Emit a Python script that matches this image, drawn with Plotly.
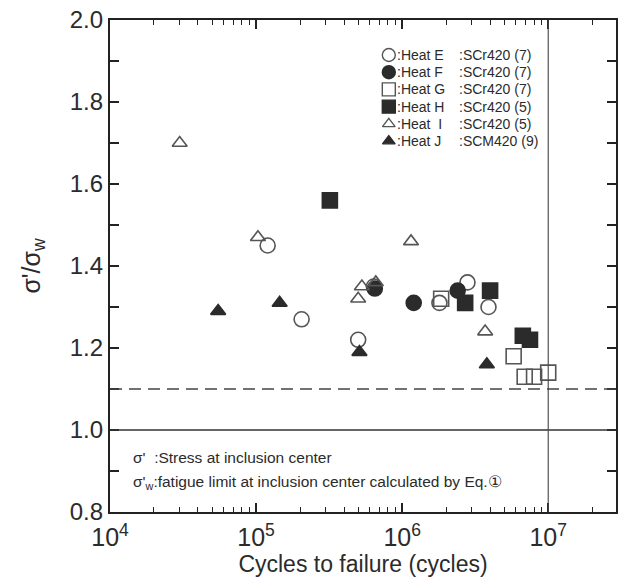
import plotly.graph_objects as go

# ---- data ----
heatE_N = [1.2e5, 2.05e5, 5.0e5, 6.4e5, 1.8e6, 2.8e6, 3.9e6]
heatE_r = [1.45, 1.27, 1.22, 1.35, 1.31, 1.36, 1.30]
heatF_N = [6.5e5, 1.2e6, 2.4e6]
heatF_r = [1.345, 1.31, 1.34]
heatG_N = [1.85e6, 5.8e6, 6.9e6, 8.0e6, 1.0e7]
heatG_r = [1.32, 1.18, 1.13, 1.13, 1.14]
heatH_N = [3.2e5, 2.7e6, 4.0e6, 6.7e6, 7.5e6]
heatH_r = [1.56, 1.31, 1.34, 1.23, 1.22]
heatI_N = [3.0e4, 1.03e5, 5.0e5, 5.3e5, 6.6e5, 1.15e6, 3.7e6]
heatI_r = [1.70, 1.47, 1.32, 1.35, 1.36, 1.46, 1.24]
heatJ_N = [5.5e4, 1.45e5, 5.1e5, 3.8e6]
heatJ_r = [1.29, 1.31, 1.19, 1.16]

legend_heat = [":Heat E", ":Heat F", ":Heat G", ":Heat H", ":Heat  I", ":Heat J"]
legend_steel = [":SCr420 (7)", ":SCr420 (7)", ":SCr420 (7)", ":SCr420 (5)", ":SCr420 (5)", ":SCM420 (9)"]

ratio_limit = 1.1
ratio_unity = 1.0
n_limit = 1e7

FONT = "Arial, Liberation Sans, Helvetica, sans-serif"
INK = "#2b2b2b"
OPEN = "#555555"

series = [
    (heatE_N, heatE_r, "circle-open", 15, OPEN),
    (heatF_N, heatF_r, "circle", 15, INK),
    (heatG_N, heatG_r, "square-open", 15, OPEN),
    (heatH_N, heatH_r, "square", 15, INK),
    (heatI_N, heatI_r, "triangle-up-open", 13, OPEN),
    (heatJ_N, heatJ_r, "triangle-up", 13, INK),
]

fig = go.Figure()
for xs, ys, sym, sz, col in series:
    fig.add_trace(go.Scatter(
        x=xs, y=ys, mode="markers", showlegend=False,
        marker=dict(symbol=sym, size=sz, color=col,
                    line=dict(width=1.6, color=col))))

# legend markers on an overlay axis (0..1)
leg_y0, leg_dy = 0.9289, 0.0350
leg_ys = [leg_y0 - i * leg_dy for i in range(len(legend_heat))]
for i, (xs, ys, sym, sz, col) in enumerate(series):
    fig.add_trace(go.Scatter(
        x=[0.551], y=[leg_ys[i]], xaxis="x2", yaxis="y2", mode="markers",
        showlegend=False, cliponaxis=False,
        marker=dict(symbol=sym, size=sz - 2, color=col,
                    line=dict(width=1.4, color=col))))
    fig.add_annotation(x=0.563, y=leg_ys[i], xref="paper", yref="paper",
                       text=legend_heat[i], showarrow=False, xanchor="left",
                       yanchor="middle", font=dict(family=FONT, size=14, color=INK))
    fig.add_annotation(x=0.686, y=leg_ys[i], xref="paper", yref="paper",
                       text=legend_steel[i], showarrow=False, xanchor="left",
                       yanchor="middle", font=dict(family=FONT, size=14, color=INK))

# reference lines
fig.add_shape(type="line", xref="paper", x0=0, x1=1, yref="y",
              y0=ratio_limit, y1=ratio_limit,
              line=dict(color="#444", width=1.3, dash="12px,7px"))
fig.add_shape(type="line", xref="paper", x0=0, x1=1, yref="y",
              y0=ratio_unity, y1=ratio_unity, line=dict(color="#333", width=1.3))
fig.add_shape(type="line", yref="paper", y0=0, y1=1, xref="x",
              x0=n_limit, x1=n_limit, line=dict(color="#444", width=1.1))

fig.add_annotation(x=0.041, y=0.110, xref="paper", yref="paper",
                   text="σ'  :Stress at inclusion center", showarrow=False,
                   xanchor="left", yanchor="middle",
                   font=dict(family=FONT, size=15.5, color=INK))
fig.add_annotation(x=0.041, y=0.059, xref="paper", yref="paper",
                   text="σ'<sub>w</sub>:fatigue limit at inclusion center calculated by Eq.①",
                   showarrow=False, xanchor="left", yanchor="middle",
                   font=dict(family=FONT, size=15.5, color=INK))

minor_x = [m * 10 ** d for d in range(4, 8) for m in range(2, 10)]

fig.update_layout(
    width=620, height=579,
    margin=dict(l=110, r=2, t=20, b=67),
    paper_bgcolor="white", plot_bgcolor="white",
    font=dict(family=FONT, color=INK),
    xaxis=dict(type="log", range=[4, 7.464], tickvals=[1e4, 1e5, 1e6, 1e7],
               ticktext=["10<sup>4</sup>", "10<sup>5</sup>", "10<sup>6</sup>", "10<sup>7</sup>"],
               ticks="inside", ticklen=9, tickwidth=1.5, tickcolor="#222",
               minor=dict(tickvals=minor_x, ticks="inside", ticklen=5,
                          tickwidth=1.2, tickcolor="#222"),
               showline=True, linewidth=2.2, linecolor="#222", mirror="ticks",
               showgrid=False, zeroline=False, ticklabelstandoff=2,
               tickfont=dict(size=25, color=INK),
               title=dict(text="Cycles to failure (cycles)", standoff=2,
                          font=dict(size=23, color=INK))),
    yaxis=dict(range=[0.8, 2.0], dtick=0.2, tickformat=".1f",
               ticks="inside", ticklen=9, tickwidth=1.5, tickcolor="#222",
               minor=dict(dtick=0.1, ticks="inside", ticklen=9,
                          tickwidth=1.5, tickcolor="#222"),
               showline=True, linewidth=2.2, linecolor="#222", mirror="ticks",
               showgrid=False, zeroline=False,
               tickfont=dict(size=24, color=INK),
               title=dict(text="σ'/σ<sub>w</sub>", standoff=22,
                          font=dict(size=25, color=INK))),
    xaxis2=dict(overlaying="x", range=[0, 1], visible=False, fixedrange=True),
    yaxis2=dict(overlaying="y", range=[0, 1], visible=False, fixedrange=True),
)

fig.write_html("out.html")
